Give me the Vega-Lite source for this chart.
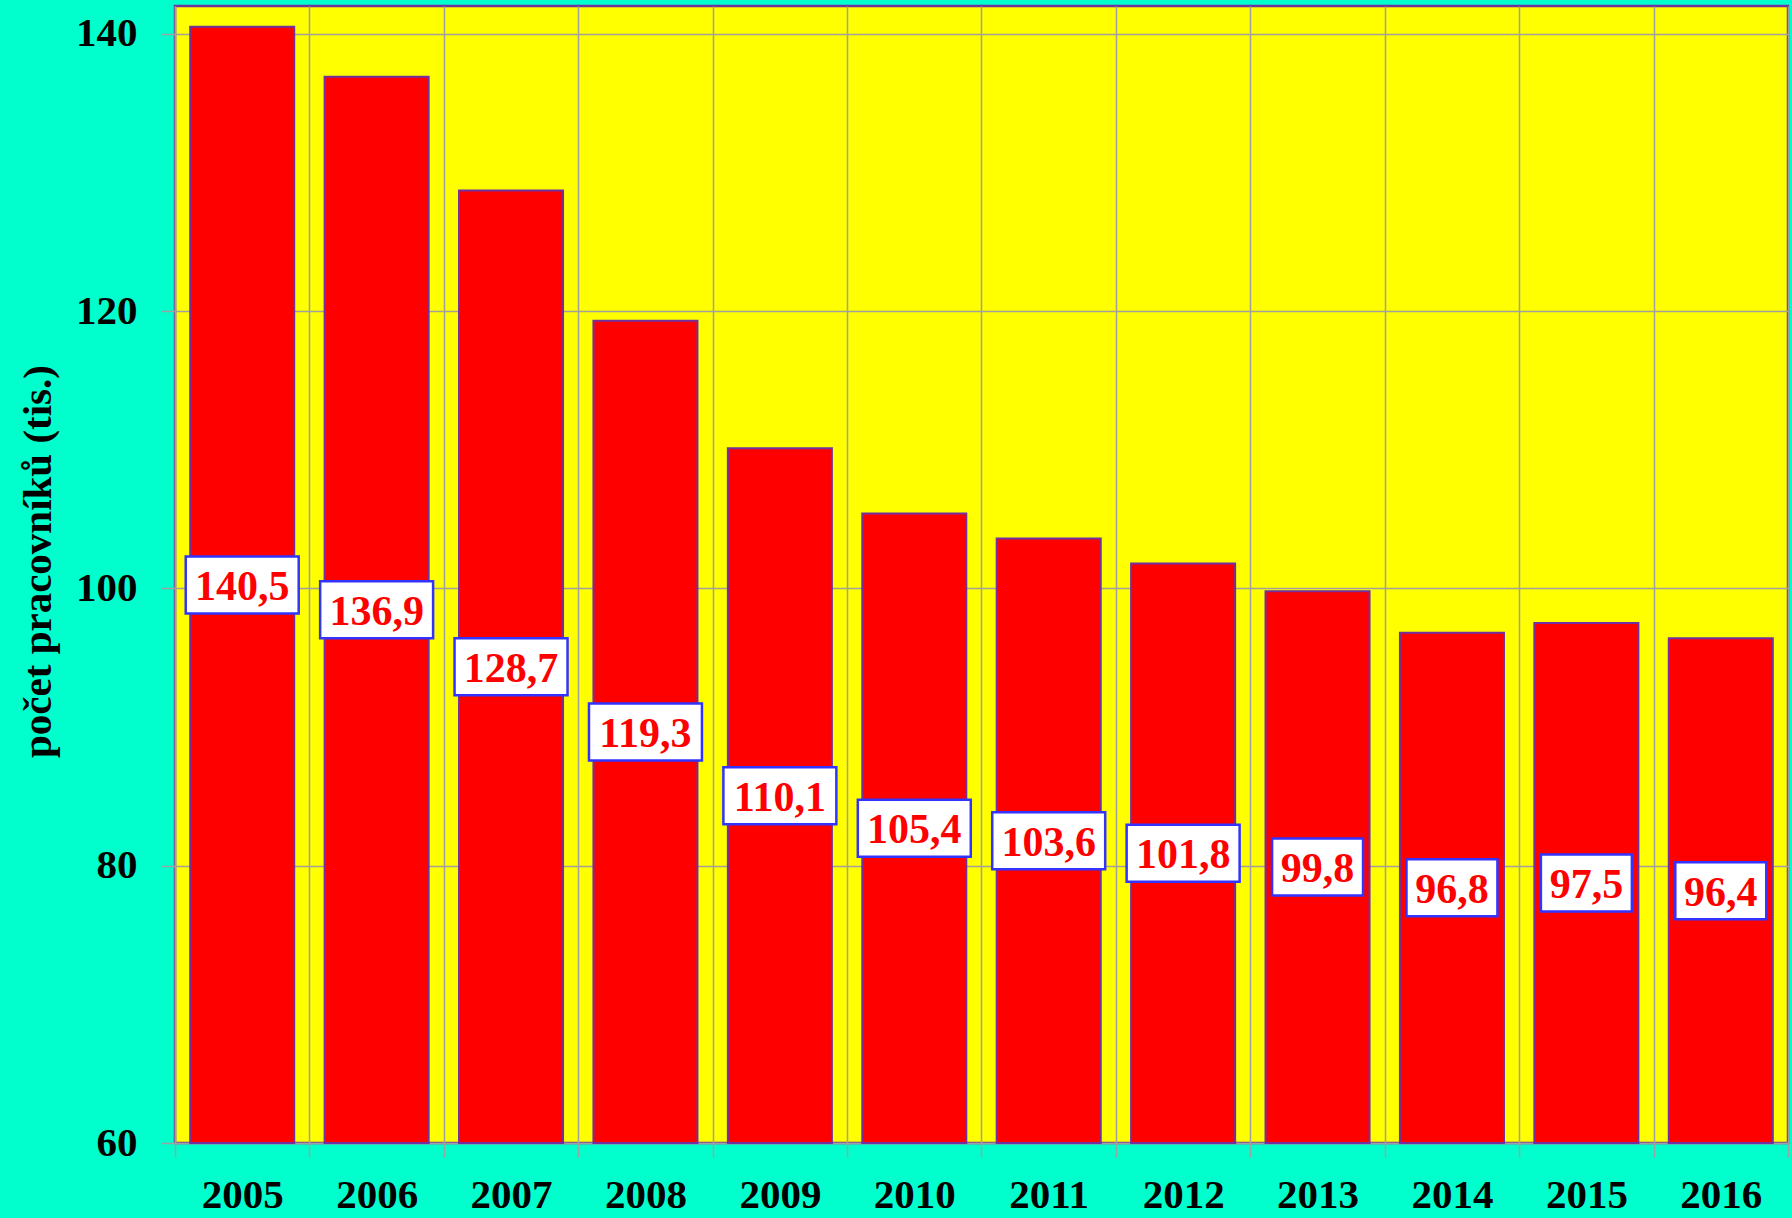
{
  "$schema": "https://vega.github.io/schema/vega-lite/v6.json",
  "width": 1613,
  "height": 1137,
  "autosize": {"type": "none"},
  "padding": {"left": 175, "top": 6, "right": 4, "bottom": 75},
  "background": "#00FFCC",
  "config": {
    "view": {"fill": "#FFFF00", "stroke": "#7030A0", "strokeWidth": 2.5},
    "font": "Liberation Serif"
  },
  "data": {
    "values": [
      {"rok": "2005", "v": 140.5, "label": "140,5"},
      {"rok": "2006", "v": 136.9, "label": "136,9"},
      {"rok": "2007", "v": 128.7, "label": "128,7"},
      {"rok": "2008", "v": 119.3, "label": "119,3"},
      {"rok": "2009", "v": 110.1, "label": "110,1"},
      {"rok": "2010", "v": 105.4, "label": "105,4"},
      {"rok": "2011", "v": 103.6, "label": "103,6"},
      {"rok": "2012", "v": 101.8, "label": "101,8"},
      {"rok": "2013", "v": 99.8, "label": "99,8"},
      {"rok": "2014", "v": 96.8, "label": "96,8"},
      {"rok": "2015", "v": 97.5, "label": "97,5"},
      {"rok": "2016", "v": 96.4, "label": "96,4"}
    ]
  },
  "encoding": {
    "x": {
      "field": "rok",
      "type": "ordinal",
      "scale": {"paddingInner": 0, "paddingOuter": 0},
      "axis": {
        "title": null,
        "labelAngle": 0,
        "labelFont": "Liberation Serif",
        "labelFontWeight": "bold",
        "labelFontSize": 41,
        "labelColor": "#000000",
        "labelPadding": 18,
        "tickBand": "extent",
        "tickSize": 14,
        "tickColor": "#A0A0A0",
        "tickWidth": 1.5,
        "domainColor": "#A0A0A0",
        "domainWidth": 1.5,
        "grid": true,
        "gridColor": "#A0A0A0",
        "gridWidth": 1.5
      }
    }
  },
  "layer": [
    {
      "mark": {"type": "bar", "width": {"band": 0.774}, "fill": "#FF0000", "stroke": "#7030A0", "strokeWidth": 2},
      "encoding": {
        "y": {
          "field": "v",
          "type": "quantitative",
          "scale": {"domain": [60, 142], "nice": false, "zero": false},
          "axis": {
            "values": [60, 80, 100, 120, 140],
            "title": "počet pracovníků  (tis.)",
            "titleFont": "Liberation Serif",
            "titleFontWeight": "bold",
            "titleFontSize": 41,
            "titleColor": "#000000",
            "titleX": -137,
            "titleY": 555,
            "titleAngle": -90,
            "titleAlign": "center",
            "titleBaseline": "middle",
            "labelFont": "Liberation Serif",
            "labelFontWeight": "bold",
            "labelFontSize": 41,
            "labelColor": "#000000",
            "labelPadding": 24,
            "tickSize": 14,
            "tickColor": "#A0A0A0",
            "tickWidth": 1.5,
            "domainColor": "#A0A0A0",
            "domainWidth": 1.5,
            "grid": true,
            "gridColor": "#A0A0A0",
            "gridWidth": 1.5
          }
        },
        "y2": {"datum": 60}
      }
    },
    {
      "transform": [{"filter": "datum.v >= 100"}],
      "mark": {"type": "point", "shape": "M-0.991,-0.5H0.991V0.5H-0.991Z", "size": 12996, "filled": true, "fill": "#FFFFFF", "stroke": "#3333FF", "strokeWidth": 2.5, "opacity": 1},
      "encoding": {
        "y": {"field": "v", "type": "quantitative", "scale": {"domain": [60, 224], "nice": false, "zero": false}, "axis": null}
      }
    },
    {
      "transform": [{"filter": "datum.v < 100"}],
      "mark": {"type": "point", "shape": "M-0.798,-0.5H0.798V0.5H-0.798Z", "size": 12996, "filled": true, "fill": "#FFFFFF", "stroke": "#3333FF", "strokeWidth": 2.5, "opacity": 1},
      "encoding": {
        "y": {"field": "v", "type": "quantitative", "scale": {"domain": [60, 224], "nice": false, "zero": false}, "axis": null}
      }
    },
    {
      "mark": {"type": "text", "font": "Liberation Serif", "fontWeight": "bold", "fontSize": 42, "fill": "#FF0000", "baseline": "middle", "align": "center", "dy": 2},
      "encoding": {
        "y": {"field": "v", "type": "quantitative", "scale": {"domain": [60, 224], "nice": false, "zero": false}, "axis": null},
        "text": {"field": "label"}
      }
    }
  ],
  "resolve": {"scale": {"y": "independent"}}
}
